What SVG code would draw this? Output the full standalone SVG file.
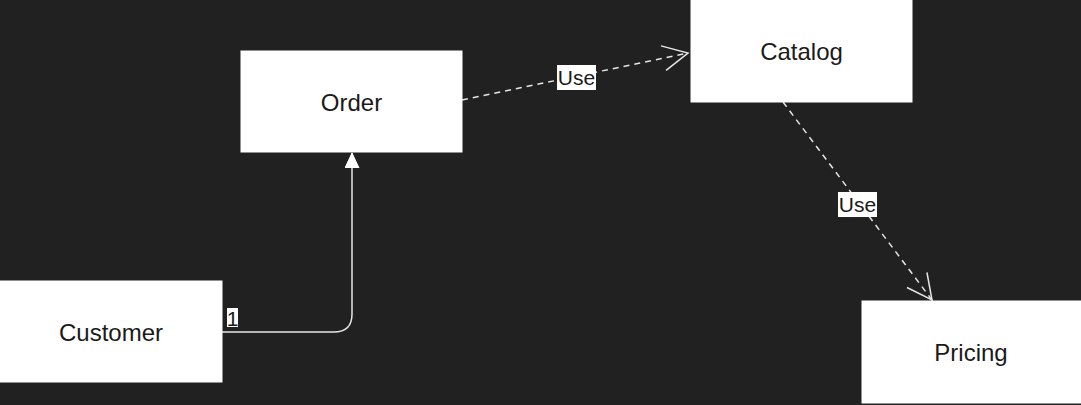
<svg xmlns="http://www.w3.org/2000/svg" width="1081" height="405" viewBox="0 0 1081 405">
<style>
.node{fill:#ffffff;stroke:#ffffff;stroke-width:1}
.lbl{font-family:"Liberation Sans",Arial,sans-serif;font-size:24px;fill:#1a1a1a;text-anchor:middle;dominant-baseline:central}
.elbl{font-family:"Liberation Sans",Arial,sans-serif;font-size:21px;fill:#1a1a1a;text-anchor:middle;dominant-baseline:central}
.edge{fill:none;stroke:#e6e6e6;stroke-width:1.5}
.dash{stroke-dasharray:6 5}
.lblbg{fill:#ffffff}
</style>
<defs>
<marker id="open" markerWidth="30" markerHeight="30" refX="26" refY="14" orient="auto" markerUnits="userSpaceOnUse">
<path d="M1,1.5 L26,14 L1,26.5" fill="none" stroke="#e6e6e6" stroke-width="1.5"/>
</marker>
<marker id="block" markerWidth="16" markerHeight="16" refX="15" refY="7" orient="auto" markerUnits="userSpaceOnUse">
<path d="M0,0 L15,7 L0,14 Z" fill="#ffffff" stroke="#ffffff" stroke-width="1"/>
</marker>
</defs>
<rect width="1081" height="405" fill="#212121"/>
<g id="connectors">
<path class="edge" d="M222,332 L334,332 Q352,332 352,314 L352,153" marker-end="url(#block)"/>
<rect class="lblbg" x="227" y="308" width="11" height="19"/>
<text class="elbl" x="232.5" y="318">1</text>
<path class="edge dash" d="M462,100 L688,53" marker-end="url(#open)"/>
<rect class="lblbg" x="557" y="65" width="39" height="25"/>
<text class="elbl" x="576.5" y="77.5">Use</text>
<path class="edge dash" d="M783,102 L932,300" marker-end="url(#open)"/>
<rect class="lblbg" x="838" y="192" width="39" height="25"/>
<text class="elbl" x="857.5" y="204.5">Use</text>
</g>
<g id="order"><rect class="node" x="241" y="51" width="221" height="101"/><text class="lbl" x="351.5" y="102">Order</text></g>
<g id="catalog"><rect class="node" x="691" y="0" width="221" height="102"/><text class="lbl" x="801.5" y="51">Catalog</text></g>
<g id="customer"><rect class="node" x="0" y="281" width="222" height="101"/><text class="lbl" x="111" y="332">Customer</text></g>
<g id="pricing"><rect class="node" x="862" y="301" width="219" height="102"/><text class="lbl" x="971" y="352">Pricing</text></g>
</svg>
